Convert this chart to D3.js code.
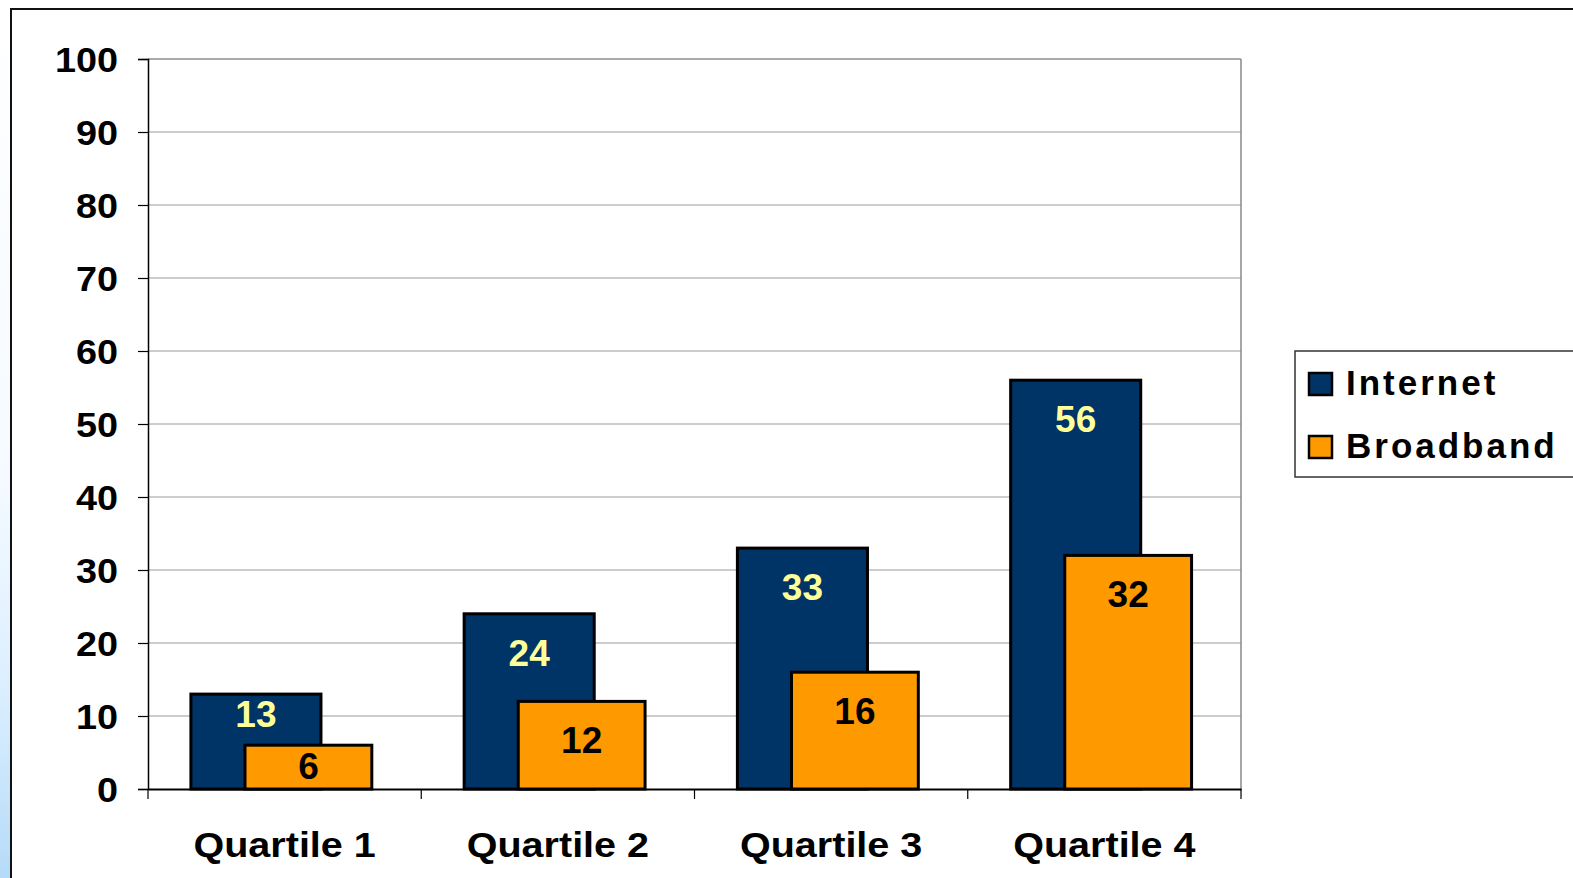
<!DOCTYPE html>
<html>
<head>
<meta charset="utf-8">
<script src="https://cdn.jsdelivr.net/npm/d3@7"></script>
<style>
  html, body { margin: 0; padding: 0; background: #fff; overflow: hidden; }
  svg { display: block; }
  text { font-family: "Liberation Sans", Arial, Helvetica, sans-serif; font-weight: bold; }
</style>
</head>
<body>
<svg id="chart" width="1573" height="878"></svg>
<script>
const categories = ["Quartile 1", "Quartile 2", "Quartile 3", "Quartile 4"];
const seriesNames = ["Internet", "Broadband"];
const internet = [13, 24, 33, 56];
const broadband = [6, 12, 16, 32];
const yTicks = [0, 10, 20, 30, 40, 50, 60, 70, 80, 90, 100];

const colors = { Internet: "#003366", Broadband: "#FF9900" };
const labelColors = { Internet: "#FFFF99", Broadband: "#000000" };

const svg = d3.select("#chart");
const W = 1573, H = 878;

// background strip on the left
const defs = svg.append("defs");
const grad = defs.append("linearGradient").attr("id", "leftGrad")
  .attr("x1", 0).attr("y1", 0).attr("x2", 0).attr("y2", 1);
grad.append("stop").attr("offset", "0%").attr("stop-color", "#ffffff");
grad.append("stop").attr("offset", "55%").attr("stop-color", "#f4faff");
grad.append("stop").attr("offset", "78%").attr("stop-color", "#dcefff");
grad.append("stop").attr("offset", "100%").attr("stop-color", "#b5dbf8");
svg.append("rect").attr("x", 0).attr("y", 0).attr("width", 11).attr("height", H)
  .attr("fill", "url(#leftGrad)");

// outer chart border
svg.append("rect").attr("x", 11).attr("y", 9).attr("width", W + 50).attr("height", H + 50)
  .attr("fill", "#ffffff").attr("stroke", "#111").attr("stroke-width", 2);

const pLeft = 148, pRight = 1241, pTop = 59, pBottom = 789;
const y = d3.scaleLinear().domain([0, 100]).range([pBottom, pTop]);
const x = d3.scaleBand().domain(categories).range([pLeft, pRight]).padding(0);
const bw = x.bandwidth();

// gridlines
svg.append("g").selectAll("line").data(yTicks.filter(d => d > 0)).join("line")
  .attr("x1", pLeft).attr("x2", pRight)
  .attr("y1", d => y(d)).attr("y2", d => y(d))
  .attr("stroke", d => d === 100 ? "#555" : "#9a9a9a").attr("stroke-width", 1);

// right plot border
svg.append("line").attr("x1", pRight).attr("x2", pRight).attr("y1", pTop).attr("y2", pBottom)
  .attr("stroke", "#888").attr("stroke-width", 1.5);

// y axis
const yAxis = d3.axisLeft(y).tickValues(yTicks).tickSize(10).tickFormat("");
const gy = svg.append("g").attr("transform", `translate(${pLeft},0)`).call(yAxis);
gy.select(".domain").attr("stroke", "#000").attr("stroke-width", 1.5);
gy.selectAll(".tick line").attr("stroke", "#000").attr("stroke-width", 1.2);

function stretchedText(g, tx, ty, str, size, anchor, fill, sx) {
  return g.append("text")
    .attr("transform", `translate(${tx},${ty}) scale(${sx},1)`)
    .attr("text-anchor", anchor)
    .attr("font-size", size)
    .attr("fill", fill)
    .text(str);
}

const tickLabels = svg.append("g");
yTicks.forEach(d => {
  stretchedText(tickLabels, 118, y(d) + 13, String(d), 35, "end", "#000", 1.08);
});

// x axis
const xAxis = d3.axisBottom(x).tickSize(0).tickFormat("");
const gx = svg.append("g").attr("transform", `translate(0,${pBottom})`).call(xAxis);
gx.select(".domain").attr("stroke", "#000").attr("stroke-width", 2);
const xTickPos = categories.map(c => x(c)).concat([pRight]);
svg.append("g").selectAll("line").data(xTickPos).join("line")
  .attr("x1", d => d).attr("x2", d => d).attr("y1", pBottom).attr("y2", pBottom + 10)
  .attr("stroke", "#000").attr("stroke-width", 1.2);

const catLabels = svg.append("g");
categories.forEach(c => {
  stretchedText(catLabels, x(c) + bw / 2, 857, c, 35, "middle", "#000", 1.13);
});

// bars
const barW = bw * 0.476;
const offs = { Internet: bw * 0.157, Broadband: bw * 0.355 };
const data = categories.map((c, i) => ({ c, Internet: internet[i], Broadband: broadband[i] }));

const barsG = svg.append("g");
seriesNames.forEach(s => {
  barsG.selectAll(`rect.${s}`).data(data).join("rect")
    .attr("class", s)
    .attr("x", d => x(d.c) + offs[s])
    .attr("y", d => y(d[s]))
    .attr("width", s === "Internet" ? barW : barW * 0.975)
    .attr("height", d => y(0) - y(d[s]))
    .attr("fill", colors[s])
    .attr("stroke", "#000").attr("stroke-width", 3);
});

// value labels
const labG = svg.append("g");
data.forEach(d => {
  const wI = barW, wB = barW * 0.975;
  const tI = y(d.Internet), tB = y(d.Broadband);
  const cyI = Math.min(tI + 38.5, tB - 31.5);
  const cyB = Math.min(tB + 38.5, (tB + y(0)) / 2 - 2);
  stretchedText(labG, x(d.c) + offs.Internet + wI / 2, cyI + 13.5, String(d.Internet), 37, "middle", labelColors.Internet, 1.0);
  stretchedText(labG, x(d.c) + offs.Broadband + wB / 2, cyB + 13.5, String(d.Broadband), 37, "middle", labelColors.Broadband, 1.0);
});

// legend
const lg = svg.append("g");
lg.append("rect").attr("x", 1295).attr("y", 351).attr("width", 320).attr("height", 126)
  .attr("fill", "#fff").attr("stroke", "#333").attr("stroke-width", 1.5);
seriesNames.forEach((s, i) => {
  const yy = 373 + i * 63;
  lg.append("rect").attr("x", 1309).attr("y", yy).attr("width", 23).attr("height", 22)
    .attr("fill", colors[s]).attr("stroke", "#000").attr("stroke-width", 2.5);
  stretchedText(lg, 1346, yy + 22, s, 35, "start", "#000", 1.0)
    .attr("letter-spacing", 3);
});
</script>
</body>
</html>
